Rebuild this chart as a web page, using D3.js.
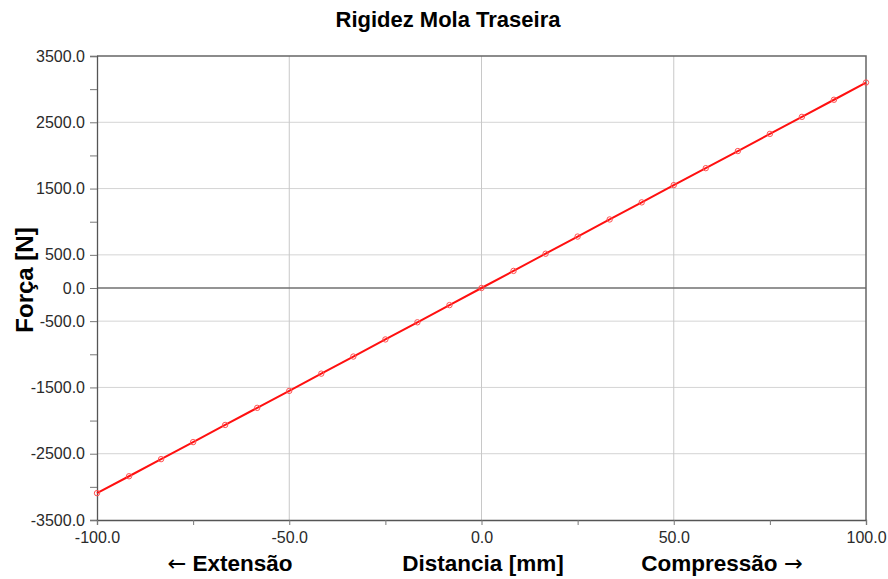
<!DOCTYPE html>
<html>
<head>
<meta charset="utf-8">
<script src="https://d3js.org/d3.v7.min.js"></script>
<style>
  body { margin: 0; background: #fff; }
  text { font-family: "Liberation Sans", Arial, sans-serif; }
</style>
</head>
<body>
<script>
// data: displacement [mm] vs force [N]
var distancia = [-100, -91.67, -83.33, -75, -66.67, -58.33, -50, -41.67, -33.33, -25, -16.67, -8.33,
                 0, 8.33, 16.67, 25, 33.33, 41.67, 50, 58.33, 66.67, 75, 83.33, 91.67, 100];
var forca = [-3095, -2840, -2582, -2325, -2066, -1808, -1552, -1292, -1034, -776, -517, -258,
             0, 258, 517, 776, 1034, 1292, 1552, 1808, 2066, 2325, 2582, 2840, 3100];
var xTicks = [-100, -75, -50, -25, 0, 25, 50, 75, 100];
var xLabelled = [-100, -50, 0, 50, 100];
var yTicks = [-3500, -3000, -2500, -2000, -1500, -1000, -500, 0, 500, 1000, 1500, 2000, 2500, 3000, 3500];
var yLabelled = [-3500, -2500, -1500, -500, 0, 500, 1500, 2500, 3500];

var width = 888, height = 579;
var margin = {top: 56, right: 22, bottom: 59, left: 97};

var svg = d3.select("body").append("svg")
    .attr("width", width)
    .attr("height", height);

var x = d3.scaleLinear().domain([-100, 100]).range([margin.left, width - margin.right]);
var y = d3.scaleLinear().domain([-3500, 3500]).range([height - margin.bottom, margin.top]);

// plain hyphen for negatives, one decimal
var fmt = function(d) { return d.toFixed(1) };

// grid
svg.append("g").selectAll("line")
  .data(yLabelled.filter(function(d) { return d != 0 && d != 3500 && d != -3500 }))
  .enter().append("line")
  .attr("x1", x(-100)).attr("x2", x(100))
  .attr("y1", function(d) { return y(d) }).attr("y2", function(d) { return y(d) })
  .style("stroke", "#d4d4d4").style("stroke-width", 1);

svg.append("g").selectAll("line")
  .data([-50, 0, 50])
  .enter().append("line")
  .attr("x1", function(d) { return x(d) }).attr("x2", function(d) { return x(d) })
  .attr("y1", y(3500)).attr("y2", y(-3500))
  .style("stroke", "#c8c8c8").style("stroke-width", 1);

// zero line
svg.append("line")
  .attr("x1", x(-100)).attr("x2", x(100))
  .attr("y1", y(0)).attr("y2", y(0))
  .style("stroke", "#707070").style("stroke-width", 1.3);

// frame top / right
svg.append("path")
  .attr("d", "M" + x(-100) + "," + y(3500) + "H" + x(100) + "V" + y(-3500))
  .style("fill", "none").style("stroke", "#666").style("stroke-width", 1.5);

// axes
var yAxis = d3.axisLeft(y).tickValues(yTicks).tickSize(7).tickPadding(5)
  .tickFormat(function(d) { return yLabelled.indexOf(d) >= 0 ? fmt(d) : "" });
var gy = svg.append("g").attr("transform", "translate(" + x(-100) + ",0)").call(yAxis);

var xAxis = d3.axisBottom(x).tickValues(xTicks).tickSize(5).tickPadding(7)
  .tickFormat(function(d) { return xLabelled.indexOf(d) >= 0 ? fmt(d) : "" });
var gx = svg.append("g").attr("transform", "translate(0," + y(-3500) + ")").call(xAxis);

[gx, gy].forEach(function(g) {
  g.attr("font-size", null).attr("font-family", null);
  g.select(".domain").style("stroke", "#555").style("stroke-width", 1.3);
  g.selectAll(".tick line").style("stroke", "#777");
  g.selectAll(".tick text").style("font-size", "16px").style("fill", "#2a2a2a");
});

// series
var pts = distancia.map(function(d, i) { return [d, forca[i]] });

svg.append("path")
  .datum(pts)
  .attr("d", d3.line().x(function(d) { return x(d[0]) }).y(function(d) { return y(d[1]) }))
  .style("fill", "none").style("stroke", "#ff1010").style("stroke-width", 2);

svg.append("g").selectAll("circle")
  .data(pts)
  .enter().append("circle")
  .attr("cx", function(d) { return x(d[0]) })
  .attr("cy", function(d) { return y(d[1]) })
  .attr("r", 2.7)
  .style("fill", "none").style("stroke", "#ff5050").style("stroke-width", 1);

// titles
svg.append("text")
  .attr("x", 448).attr("y", 27)
  .attr("text-anchor", "middle")
  .style("font-size", "22px").style("font-weight", "bold")
  .text("Rigidez Mola Traseira");

svg.append("text")
  .attr("transform", "translate(33,280) rotate(-90)")
  .attr("text-anchor", "middle")
  .style("font-size", "24px").style("font-weight", "bold")
  .text("Força [N]");

svg.append("text")
  .attr("x", 483).attr("y", 571)
  .attr("text-anchor", "middle")
  .style("font-size", "22.5px").style("font-weight", "bold")
  .text("Distancia [mm]");

var ext = svg.append("text")
  .attr("x", 230).attr("y", 571)
  .attr("text-anchor", "middle")
  .style("font-size", "22.5px").style("font-weight", "bold");
ext.append("tspan").style("font-family", "'DejaVu Sans', sans-serif").style("font-weight", "normal").text("←");
ext.append("tspan").text(" Extensão");

var comp = svg.append("text")
  .attr("x", 722).attr("y", 571)
  .attr("text-anchor", "middle")
  .style("font-size", "22.5px").style("font-weight", "bold");
comp.append("tspan").text("Compressão ");
comp.append("tspan").style("font-family", "'DejaVu Sans', sans-serif").style("font-weight", "normal").text("→");
</script>
</body>
</html>
